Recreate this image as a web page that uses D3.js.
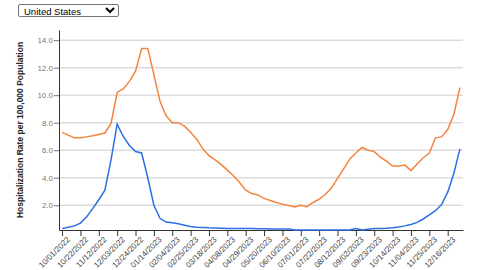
<!DOCTYPE html>
<html>
<head>
<meta charset="utf-8">
<script src="https://cdn.jsdelivr.net/npm/d3@7"></script>
<style>
  body { margin: 0; background: #fff; font-family: Arial, "Liberation Sans", sans-serif; }
  #picker { position: absolute; left: 18px; top: 4px; width: 101px; height: 13px; font-size: 9.5px;
            font-family: Arial, "Liberation Sans", sans-serif; padding: 0 0 0 1px; border: 1px solid #767676;
            border-radius: 2px; background: #fff; color: #000; }
  #chart { position: absolute; left: 0; top: 0; }
</style>
</head>
<body>
<select id="picker"><option>United States</option></select>
<div id="chart"></div>
<script>
// weekly dates, first week and count
var startDate = new Date(2022, 9, 1);
var weekCount = 66;

// orange series
var seriesA = [7.3, 7.1, 6.9, 6.9, 6.97, 7.05, 7.15, 7.25, 7.95, 10.2,
               10.45, 11.0, 11.75, 13.4, 13.4, 11.5, 9.55, 8.5, 8.0, 8.0,
               7.75, 7.3, 6.8, 6.1, 5.6, 5.3, 4.95, 4.55, 4.15, 3.65,
               3.1, 2.85, 2.75, 2.5, 2.35, 2.2, 2.08, 1.98, 1.88, 2.0,
               1.9, 2.2, 2.45, 2.78, 3.25, 3.95, 4.65, 5.35, 5.8, 6.2,
               6.0, 5.9, 5.5, 5.2, 4.85, 4.85, 4.92, 4.52, 5.0, 5.45,
               5.8, 6.9, 6.97, 7.5, 8.6, 10.55];

// blue series
var seriesB = [0.3, 0.4, 0.5, 0.7, 1.15, 1.75, 2.4, 3.1, 5.3, 7.9,
               7.0, 6.35, 5.9, 5.8, 4.0, 2.0, 1.05, 0.78, 0.72, 0.66,
               0.55, 0.45, 0.4, 0.38, 0.36, 0.35, 0.33, 0.31, 0.3, 0.3,
               0.3, 0.3, 0.29, 0.29, 0.28, 0.28, 0.28, 0.27, 0.2, 0.2,
               0.2, 0.2, 0.2, 0.2, 0.2, 0.2, 0.2, 0.2, 0.3, 0.2,
               0.25, 0.3, 0.3, 0.32, 0.36, 0.42, 0.5, 0.6, 0.75, 1.0,
               1.3, 1.6, 2.05, 2.95, 4.3, 6.1];

var yTicks = [2, 4, 6, 8, 10, 12, 14];

drawChart();

function drawChart() {
    var fmt = d3.timeFormat("%m/%d/%Y");
    var weeks = d3.range(weekCount).map(function(i) { return fmt(d3.timeDay.offset(startDate, i * 7)); });

    var width = 480, height = 270;
    var mLeft = 59, mRight = 463, mTop = 30, mBottom = 230;
    var font = "Arial, 'Liberation Sans', sans-serif";

    var svg = d3.select("#chart").append("svg")
      .attr("width", width)
      .attr("height", height);

    var x = d3.scalePoint().domain(weeks).range([mLeft, mRight]).padding(0.5);

    var allVals = seriesA.concat(seriesB);
    var y = d3.scaleLinear()
      .domain([d3.min(allVals), d3.max(allVals) * 1.1])
      .range([mBottom, mTop]);

    // grid lines
    svg.append("g")
      .selectAll("line")
      .data(yTicks)
      .enter().append("line")
        .attr("x1", mLeft).attr("x2", mRight)
        .attr("y1", function(d) { return y(d); })
        .attr("y2", function(d) { return y(d); })
        .attr("stroke", "#dcdcdc")
        .attr("stroke-width", 1.5);

    // y axis
    var yAxis = svg.append("g")
      .attr("transform", "translate(" + mLeft + ",0)")
      .call(d3.axisLeft(y).tickValues(yTicks).tickFormat(d3.format(".1f")).tickSize(5).tickPadding(1).tickSizeOuter(0));
    yAxis.selectAll("text").attr("fill", "#777").style("font-size", "8px").style("font-family", font);
    yAxis.selectAll("line").attr("stroke", "#777");
    yAxis.select(".domain").attr("stroke", "#333");

    // x axis
    var xAxis = svg.append("g")
      .attr("transform", "translate(0," + mBottom + ")")
      .call(d3.axisBottom(x)
        .tickValues(weeks.filter(function(d, i) { return i % 3 === 0 && i < 64; }))
        .tickSize(6).tickSizeOuter(0));
    xAxis.selectAll("text")
      .attr("fill", "#444")
      .style("font-size", "8px")
      .style("font-family", font)
      .attr("text-anchor", "end")
      .attr("dx", "-0.2em")
      .attr("dy", "0.45em")
      .attr("transform", "rotate(-45)");
    xAxis.selectAll("line").attr("stroke", "#333");
    xAxis.select(".domain").attr("stroke", "#333");

    // y label
    svg.append("text")
      .attr("transform", "translate(23," + ((mTop + mBottom) / 2) + ") rotate(-90)")
      .attr("text-anchor", "middle")
      .style("font-size", "8.5px")
      .style("font-weight", "bold")
      .style("font-family", font)
      .attr("fill", "#222")
      .text("Hospitalization Rate per 100,000 Population");

    var line = d3.line()
      .x(function(d, i) { return x(weeks[i]); })
      .y(function(d) { return y(d); });

    svg.append("path")
      .datum(seriesA)
      .attr("fill", "none")
      .attr("stroke", "#f5833c")
      .attr("stroke-width", 1.5)
      .attr("d", line);

    svg.append("path")
      .datum(seriesB)
      .attr("fill", "none")
      .attr("stroke", "#2c6fe4")
      .attr("stroke-width", 1.5)
      .attr("d", line);
}
</script>
</body>
</html>
